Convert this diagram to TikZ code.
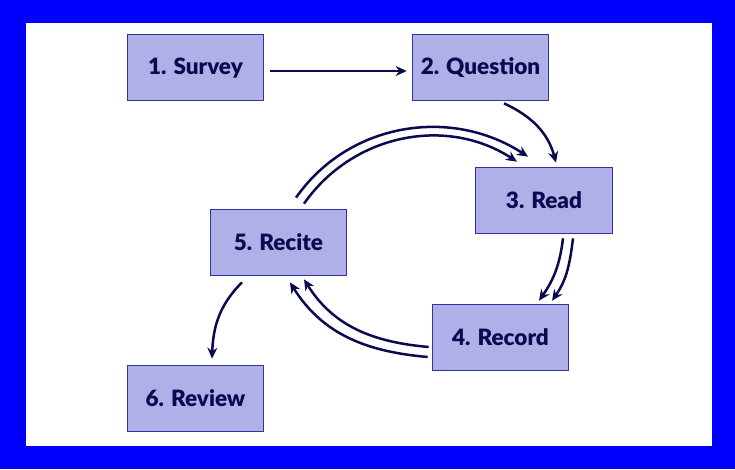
\documentclass[tikz,border=0pt]{standalone}
\usepackage{fontspec}
\setmainfont{Lato}[BoldFont={Lato Black}]
\usetikzlibrary{arrows.meta}
\definecolor{slideblue}{RGB}{0,0,255}
\definecolor{boxfill}{RGB}{176,176,232}
\definecolor{boxline}{RGB}{50,50,165}
\definecolor{navy}{RGB}{10,10,80}
\tikzset{
    stagebox/.style={draw=boxline, fill=boxfill, line width=1.2pt, minimum width=136.5pt, minimum height=66.5pt, inner sep=0pt, text height=15pt, text depth=0pt, text=navy, font=\fontsize{22.5}{24}\selectfont\bfseries},
    flow/.style={draw=navy, line width=2.5pt, -{Stealth[length=11pt,width=10pt]}}
}
\begin{document}
\begin{tikzpicture}[x=1pt,y=1pt]
    \fill[slideblue] (0,0) rectangle (735,469);
    \fill[white] (26,23) rectangle (712,446);
    \node[stagebox] (survey) at (195.5,401.5) {1. Survey};
    \node[stagebox] (question) at (480.5,401.5) {2. Question};
    \node[stagebox] (read) at (544,268.5) {3. Read};
    \node[stagebox] (record) at (500.5,131.5) {4. Record};
    \node[stagebox] (recite) at (278.5,226.5) {5. Recite};
    \node[stagebox] (review) at (195.5,70.5) {6. Review};
    \draw[flow] ([shift={(6,-3.5)}]survey.east) -- ([shift={(-5,-3.5)}]question.west);
    \draw[flow] ([shift={(23.5,-2)}]question.south) to[out=-25,in=105] ([shift={(12,4)}]read.north);
    \draw[flow] ([shift={(29,-4)}]read.south) to[out=-97,in=55] ([shift={(51.5,3)}]record.north);
    \draw[flow] ([shift={(19,-4)}]read.south) to[out=-97,in=55] ([shift={(38.5,3)}]record.north);
    \draw[flow] ([shift={(-3,-9.5)}]record.west) to[out=175,in=-58] ([shift={(25.5,-3)}]recite.south);
    \draw[flow] ([shift={(-4,-19.5)}]record.west) to[out=175,in=-58] ([shift={(11.5,-6)}]recite.south);
    \draw[flow] ([shift={(17.5,11)}]recite.north) to[out=55,in=147] ([shift={(-16,10)}]read.north);
    \draw[flow] ([shift={(25.5,5)}]recite.north) to[out=55,in=147] ([shift={(-27,5)}]read.north);
    \draw[flow] ([shift={(-36.5,-6)}]recite.south) to[out=225,in=88] ([shift={(16.5,6)}]review.north);
\end{tikzpicture}
\end{document}
